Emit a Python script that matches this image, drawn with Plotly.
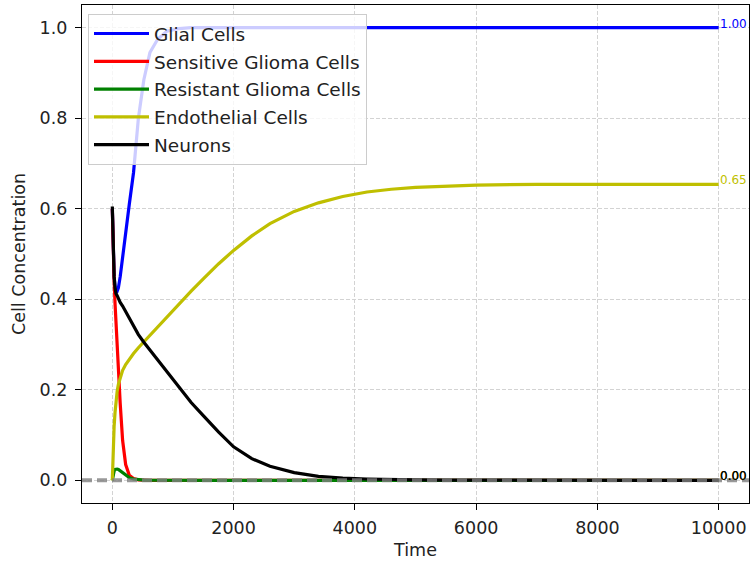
import plotly.graph_objects as go

# ---- data ----
time = [0, 10, 20, 30, 45, 60, 80, 100, 130, 170, 220, 280, 350, 430, 520, 620, 750,
        900, 1100, 1300, 1500, 1750, 2000, 2300, 2600, 3000, 3400, 3800, 4200, 4600,
        5000, 5500, 6000, 7000, 8000, 9000, 10000]

glial = [0.60, 0.53, 0.48, 0.45, 0.428, 0.42, 0.418, 0.425, 0.45, 0.495, 0.55, 0.61,
         0.68, 0.80, 0.885, 0.945, 0.975, 0.992, 0.998, 1.0, 1.0, 1.0, 1.0, 1.0, 1.0,
         1.0, 1.0, 1.0, 1.0, 1.0, 1.0, 1.0, 1.0, 1.0, 1.0, 1.0, 1.0]

sensitive = [0.60, 0.53, 0.48, 0.44, 0.39, 0.345, 0.29, 0.24, 0.17, 0.088, 0.035, 0.011,
             0.004, 0.001, 0.0, 0.0, 0.0, 0.0, 0.0, 0.0, 0.0, 0.0, 0.0, 0.0, 0.0, 0.0,
             0.0, 0.0, 0.0, 0.0, 0.0, 0.0, 0.0, 0.0, 0.0, 0.0, 0.0]

resistant = [0.0, 0.01, 0.017, 0.021, 0.024, 0.025, 0.025, 0.024, 0.021, 0.016, 0.01,
             0.006, 0.003, 0.0015, 0.0007, 0.0003, 0.0001, 0.0, 0.0, 0.0, 0.0, 0.0,
             0.0, 0.0, 0.0, 0.0, 0.0, 0.0, 0.0, 0.0, 0.0, 0.0, 0.0, 0.0, 0.0, 0.0, 0.0]

endothelial = [0.0, 0.05, 0.09, 0.12, 0.15, 0.175, 0.197, 0.212, 0.228, 0.243, 0.256,
               0.268, 0.28, 0.293, 0.306, 0.321, 0.34, 0.362, 0.39, 0.418, 0.445, 0.478,
               0.508, 0.54, 0.567, 0.594, 0.613, 0.627, 0.637, 0.643, 0.647, 0.65,
               0.652, 0.654, 0.654, 0.654, 0.654]

neurons = [0.605, 0.53, 0.48, 0.45, 0.425, 0.413, 0.408, 0.40, 0.393, 0.385, 0.373,
           0.358, 0.34, 0.322, 0.305, 0.288, 0.266, 0.242, 0.207, 0.172, 0.143, 0.107,
           0.074, 0.048, 0.031, 0.017, 0.009, 0.005, 0.003, 0.0015, 0.001, 0.0005,
           0.0002, 0.0, 0.0, 0.0, 0.0]

series_names = ["Glial Cells", "Sensitive Glioma Cells", "Resistant Glioma Cells",
                "Endothelial Cells", "Neurons"]
series_values = [glial, sensitive, resistant, endothelial, neurons]
series_colors = ["#0000ff", "#ff0000", "#008000", "#bfbf00", "#000000"]

x_ticks = [0, 2000, 4000, 6000, 8000, 10000]
y_ticks = [0.0, 0.2, 0.4, 0.6, 0.8, 1.0]

FONT = "DejaVu Sans"
TXT = "#222222"

fig = go.Figure()
for i, (name, vals, col) in enumerate(zip(series_names, series_values, series_colors)):
    fig.add_trace(go.Scatter(x=time, y=vals, mode="lines", name=name,
                             line=dict(color=col, width=3.2),
                             legendgroup=f"g{i}"))

# final value labels
for vals, col in zip(series_values, series_colors):
    fig.add_annotation(x=time[-1], y=vals[-1], text=f"{vals[-1]:.2f}",
                       showarrow=False, xanchor="left", yanchor="middle",
                       yshift=4, xshift=-1,
                       font=dict(family=FONT, size=12, color=col))

# zero reference line
fig.add_shape(type="line", xref="paper", x0=0, x1=1, yref="y", y0=0, y1=0,
              line=dict(color="rgba(128,128,128,0.8)", width=4, dash="10px,5px"),
              layer="above")

axis_common = dict(showline=True, mirror=True, linecolor="black", linewidth=1.2,
                   ticks="outside", ticklen=6, tickwidth=1.2, tickcolor="black",
                   showgrid=True, gridcolor="#d3d3d3", gridwidth=1, griddash="4px,2px",
                   zeroline=False, tickfont=dict(family=FONT, size=17.5, color=TXT))

fig.update_xaxes(range=[-500, 10500], tickvals=x_ticks,
                 ticktext=[str(v) for v in x_ticks], ticklabelstandoff=3,
                 title=dict(text="Time", font=dict(family=FONT, size=17.5, color=TXT),
                            standoff=6),
                 **axis_common)
fig.update_yaxes(range=[-0.05, 1.05], tickvals=y_ticks,
                 ticktext=[f"{v:.1f}" for v in y_ticks], ticklabelstandoff=4,
                 title=dict(text="Cell Concentration",
                            font=dict(family=FONT, size=17.5, color=TXT), standoff=9),
                 **axis_common)

fig.update_layout(
    width=751, height=567,
    margin=dict(l=82, r=2, t=5, b=64),
    plot_bgcolor="white", paper_bgcolor="white",
    font=dict(family=FONT, size=17.5, color=TXT),
    legend=dict(x=0.009, y=0.982, xanchor="left", yanchor="top",
                bgcolor="rgba(255,255,255,0.8)", bordercolor="#cccccc", borderwidth=1,
                font=dict(family=FONT, size=18.5, color=TXT),
                tracegroupgap=0.75, itemwidth=55),
    showlegend=True,
)

fig.write_html("out.html")
